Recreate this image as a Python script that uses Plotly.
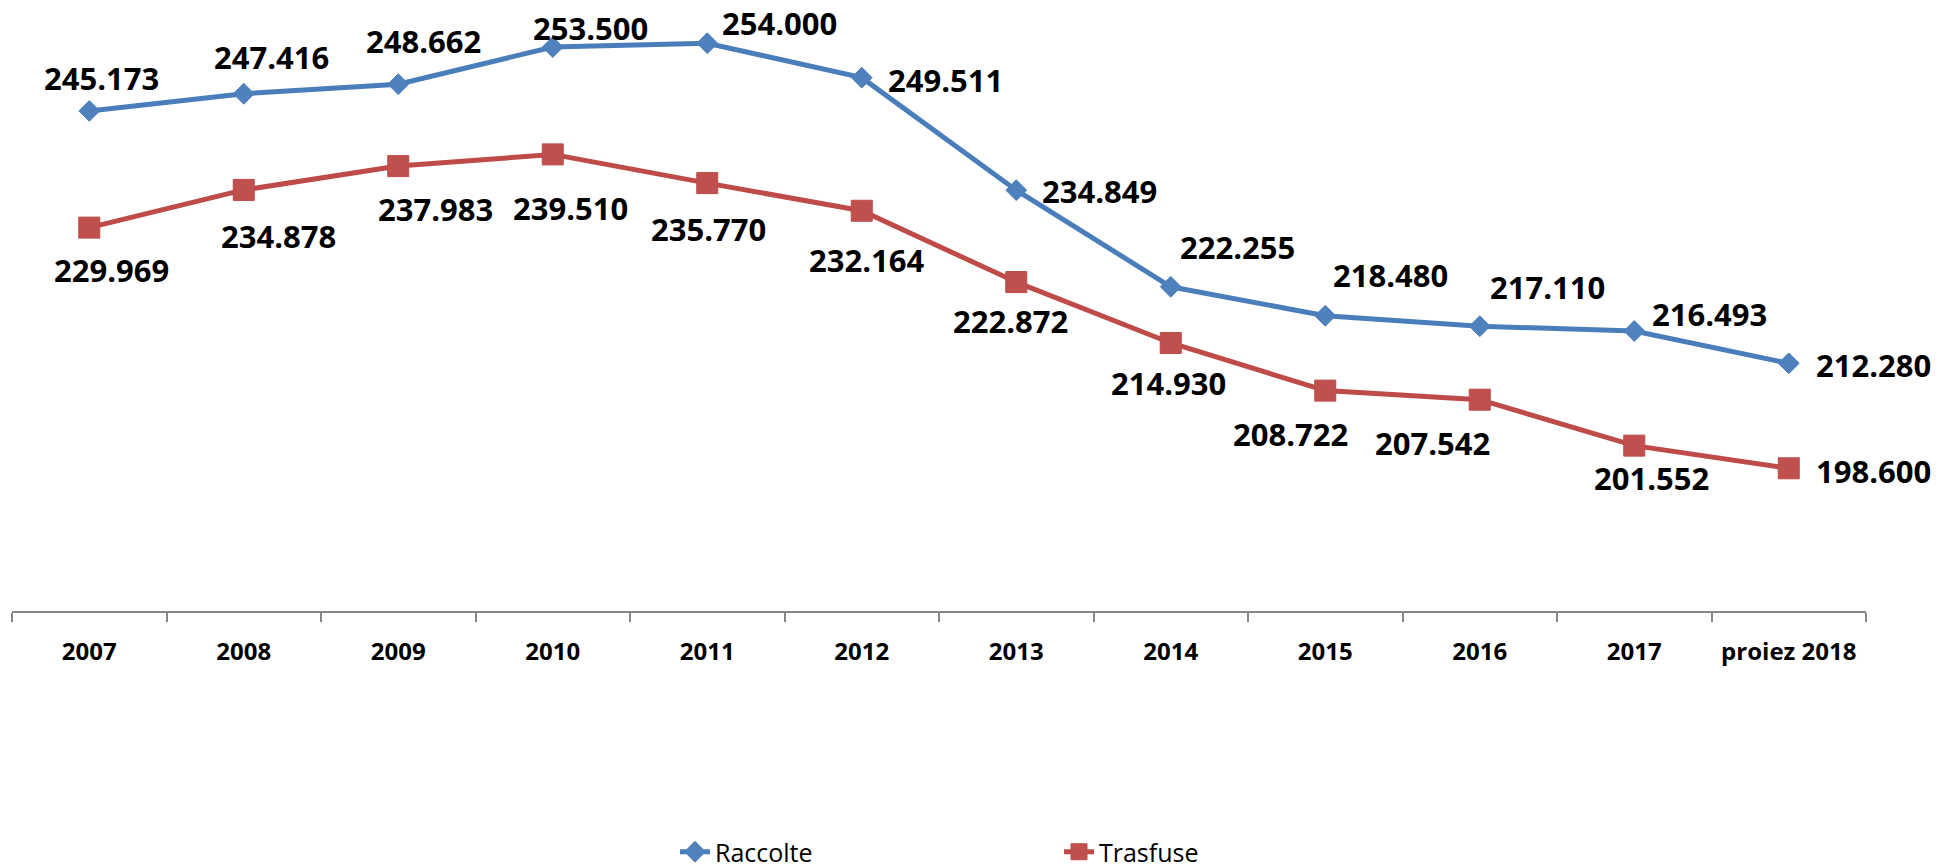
import plotly.graph_objects as go

categories = ["2007", "2008", "2009", "2010", "2011", "2012", "2013", "2014", "2015", "2016", "2017", "proiez 2018"]
raccolte = [245173, 247416, 248662, 253500, 254000, 249511, 234849, 222255, 218480, 217110, 216493, 212280]
trasfuse = [229969, 234878, 237983, 239510, 235770, 232164, 222872, 214930, 208722, 207542, 201552, 198600]

# label offsets (pixels, dx right, dy down) for manual data-label placement
racc_off = [(12, -33), (28, -37), (25, -43), (38, -19), (72, -20), (84, 2), (83, 1), (67, -40), (65, -41), (68, -39), (75, -17), (85, 2)]
tras_off = [(22, 42), (35, 46), (37, 43), (18, 54), (1, 46), (5, 49), (-6, 39), (-2, 40), (-35, 43), (-47, 43), (17, 32), (85, 3)]

BLUE_LINE = "#4A7EBB"
BLUE_FILL = "#4F81BD"
RED_LINE = "#BE4B48"
RED_FILL = "#C0504D"


def fmt(v):
    return f"{v:,}".replace(",", ".")


fig = go.Figure()
fig.add_trace(go.Scatter(
    x=categories, y=raccolte, name="Raccolte", mode="lines+markers",
    line=dict(color=BLUE_LINE, width=5),
    marker=dict(symbol="diamond", size=16, color=BLUE_FILL, line=dict(color=BLUE_LINE, width=1)),
    cliponaxis=False,
))
fig.add_trace(go.Scatter(
    x=categories, y=trasfuse, name="Trasfuse", mode="lines+markers",
    line=dict(color=RED_LINE, width=5),
    marker=dict(symbol="square", size=21, color=RED_FILL, line=dict(color=RED_LINE, width=1)),
    cliponaxis=False,
))

annotations = []
for series, offs in ((raccolte, racc_off), (trasfuse, tras_off)):
    for i, (v, (dx, dy)) in enumerate(zip(series, offs)):
        annotations.append(dict(
            x=i, y=v, xref="x", yref="y", text=fmt(v), showarrow=False,
            xshift=dx, yshift=-dy, xanchor="center", yanchor="middle",
            font=dict(family="Open Sans", size=31, color="#000000", weight="bold"),
        ))

fig.update_layout(
    width=1938, height=867,
    paper_bgcolor="white", plot_bgcolor="white",
    margin=dict(l=4, r=80, t=0, b=258),
    showlegend=True,
    legend=dict(
        orientation="h", x=0.3576, xanchor="left", y=-0.4007, yanchor="middle",
        font=dict(family="Open Sans", size=25, color="#000000"),
        entrywidth=339, entrywidthmode="pixels",
        bgcolor="rgba(0,0,0,0)", borderwidth=0,
    ),
    annotations=annotations,
    xaxis=dict(
        type="category", range=[-0.5, 11.5], autorange=False,
        showgrid=False, zeroline=False,
        showline=True, linecolor="#868686", linewidth=2,
        ticks="outside", tickson="boundaries", ticklen=9, tickcolor="#868686", tickwidth=2,
        tickfont=dict(family="Open Sans", size=24, color="#000000", weight="bold"),
        ticklabelstandoff=18, tickangle=0,
    ),
    yaxis=dict(range=[180000, 258590], visible=False, showgrid=False, zeroline=False),
)

fig.write_html("out.html")
